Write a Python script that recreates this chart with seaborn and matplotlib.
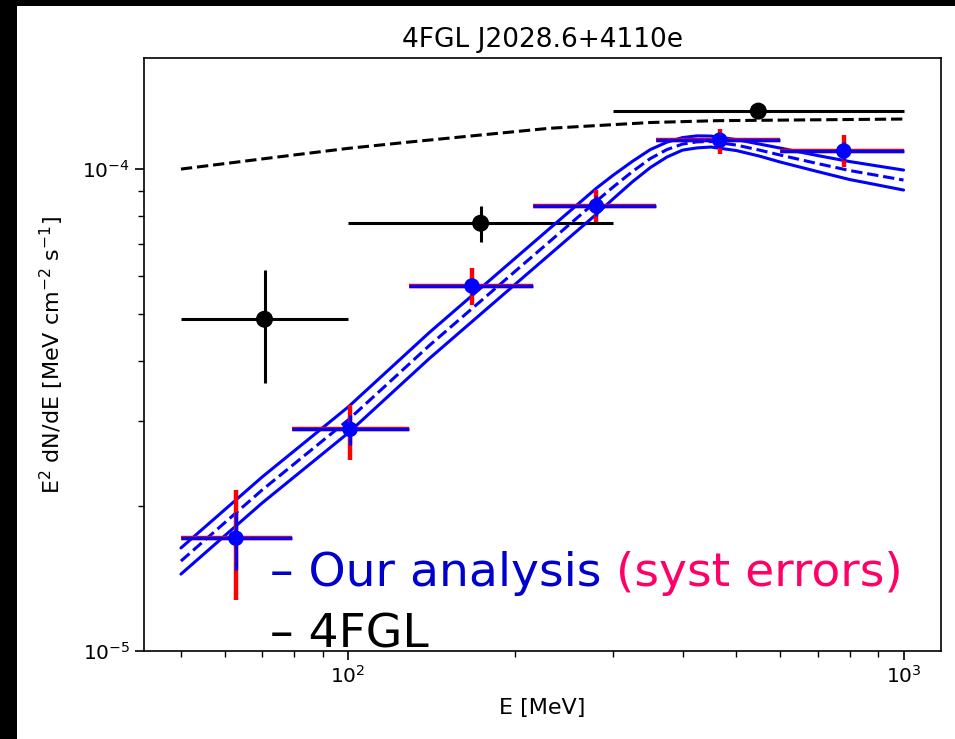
import numpy as np
import pandas as pd
import matplotlib
matplotlib.use("Agg")
import matplotlib.pyplot as plt
from matplotlib.patches import Rectangle
import seaborn as sns

# ---------------- data ----------------
# Our analysis: flux points
our_E = [62.8, 100.8, 167.1, 279.8, 466.8, 780.6]
our_E_lo = [50.0, 79.2, 128.8, 215.2, 359.0, 600.0]
our_E_hi = [79.2, 128.8, 215.2, 359.0, 600.0, 1000.0]
our_flux = [1.714e-5, 2.884e-5, 5.72e-5, 8.38e-5, 1.148e-4, 1.090e-4]
our_stat_hi = [1.945e-5, 3.09e-5, 5.94e-5, 8.79e-5, 1.18e-4, 1.139e-4]
our_stat_lo = [1.473e-5, 2.676e-5, 5.48e-5, 7.99e-5, 1.105e-4, 1.044e-4]
our_tot_hi = [2.16e-5, 3.24e-5, 6.22e-5, 9.04e-5, 1.209e-4, 1.176e-4]
our_tot_lo = [1.277e-5, 2.49e-5, 5.22e-5, 7.78e-5, 1.074e-4, 1.008e-4]

# 4FGL flux points
fgl_E = [70.7, 173.2, 547.7]
fgl_E_lo = [50.0, 100.0, 300.0]
fgl_E_hi = [100.0, 300.0, 1000.0]
fgl_flux = [4.88e-5, 7.72e-5, 1.319e-4]
fgl_hi = [6.17e-5, 8.38e-5, 1.319e-4]
fgl_lo = [3.60e-5, 7.06e-5, 1.319e-4]

# 4FGL spectral model
fgl_model_E = [50, 75, 100, 130, 230, 350, 460, 1000]
fgl_model_flux = [1.0e-4, 1.06e-4, 1.104e-4, 1.139e-4, 1.215e-4, 1.249e-4, 1.26e-4, 1.27e-4]

# Our model and its uncertainty band
model_E = [50, 70, 100, 140, 200, 280, 300, 325, 350, 375, 400, 425, 450,
           500, 550, 600, 700, 800, 900, 1000]
model_mid = [1.537e-5, 2.158e-5, 3.015e-5, 4.303e-5, 6.14e-5, 8.58e-5, 9.177e-5, 9.881e-5,
             1.0514e-4, 1.0976e-4, 1.1269e-4, 1.1388e-4, 1.1405e-4,
             1.1214e-4, 1.0950e-4, 1.0691e-4, 1.0267e-4, 0.9929e-4, 0.9694e-4, 0.9488e-4]
model_up = [1.636e-5, 2.296e-5, 3.208e-5, 4.579e-5, 6.534e-5, 9.130e-5, 9.71e-5, 1.0376e-4,
            1.0975e-4, 1.1373e-4, 1.1624e-4, 1.1720e-4, 1.1708e-4,
            1.1512e-4, 1.1269e-4, 1.1054e-4, 1.0667e-4, 1.0365e-4, 1.0144e-4, 0.9952e-4]
model_lo = [1.444e-5, 2.028e-5, 2.833e-5, 4.044e-5, 5.770e-5, 8.063e-5, 8.673e-5, 9.410e-5,
            1.0072e-4, 1.0593e-4, 1.0947e-4, 1.1065e-4, 1.1110e-4,
            1.0924e-4, 1.0640e-4, 1.0340e-4, 0.9882e-4, 0.9511e-4, 0.9264e-4, 0.9046e-4]

title = "4FGL J2028.6+4110e"
xlabel = "E [MeV]"
ylabel = r"E$^2$ dN/dE [MeV cm$^{-2}$ s$^{-1}$]"

# ---------------- style ----------------
sns.set_style("ticks")
plt.rcParams.update({
    "font.family": ["DejaVu Sans"],
    "axes.edgecolor": "black",
    "axes.linewidth": 1.2,
    "xtick.color": "black", "ytick.color": "black",
    "text.color": "black", "axes.labelcolor": "black",
    "xtick.major.size": 6.5, "ytick.major.size": 6.5,
    "xtick.minor.size": 4, "ytick.minor.size": 4,
    "xtick.major.width": 1.2, "ytick.major.width": 1.2,
    "xtick.minor.width": 1.0, "ytick.minor.width": 1.0,
    "xtick.direction": "out", "ytick.direction": "out",
})

fig = plt.figure(figsize=(9.55, 7.39), dpi=100)
W, H = 955, 739
ax = fig.add_axes([144 / W, 1 - 651 / H, (941 - 144) / W, (651 - 58) / H])
ax.set_xscale("log")
ax.set_yscale("log")

# black frame strips of the screenshot
fig.patches.append(Rectangle((0, 0), 17 / W, 1, transform=fig.transFigure,
                             facecolor="black", edgecolor="none", zorder=-1))
fig.patches.append(Rectangle((0, 1 - 6 / H), 1, 6 / H, transform=fig.transFigure,
                             facecolor="black", edgecolor="none", zorder=-1))

lw = 2.2

# 4FGL model
sns.lineplot(x=fgl_model_E, y=fgl_model_flux, ax=ax, color="black", lw=lw,
             linestyle="--", zorder=2)

# 4FGL points
fE = np.array(fgl_E)
ff = np.array(fgl_flux)
ax.errorbar(fE, ff, xerr=[fE - np.array(fgl_E_lo), np.array(fgl_E_hi) - fE],
            yerr=[ff - np.array(fgl_lo), np.array(fgl_hi) - ff],
            fmt="none", ecolor="black", elinewidth=lw, capsize=0, zorder=2)
sns.scatterplot(x=fgl_E, y=fgl_flux, ax=ax, color="black", s=150,
                edgecolor="none", zorder=2.5)

# our model band
sns.lineplot(x=model_E, y=model_up, ax=ax, color="blue", lw=lw, zorder=3)
sns.lineplot(x=model_E, y=model_lo, ax=ax, color="blue", lw=lw, zorder=3)
sns.lineplot(x=model_E, y=model_mid, ax=ax, color="blue", lw=lw, linestyle="--", zorder=3)

# our points: total (red) and statistical (blue) errors
oE = np.array(our_E)
of = np.array(our_flux)
xerr = [oE - np.array(our_E_lo), np.array(our_E_hi) - oE]
ax.errorbar(oE, of, xerr=xerr,
            yerr=[of - np.array(our_tot_lo), np.array(our_tot_hi) - of],
            fmt="none", ecolor="red", elinewidth=3.2, capsize=0, zorder=4)
ax.errorbar(oE, of, xerr=xerr,
            yerr=[of - np.array(our_stat_lo), np.array(our_stat_hi) - of],
            fmt="none", ecolor="blue", elinewidth=2.4, capsize=0, zorder=5)
sns.scatterplot(x=our_E, y=our_flux, ax=ax, color="blue", s=125,
                edgecolor="none", zorder=6)

ax.set_xlim(42.9, 1168)
ax.set_ylim(1e-5, 1.70e-4)
ax.set_title(title, fontsize=19, pad=8)
ax.set_xlabel(xlabel, fontsize=16, labelpad=8)
ax.set_ylabel(ylabel, fontsize=16, labelpad=12)
ax.tick_params(axis="both", which="major", labelsize=14.5)

# overlaid annotation text
t1 = fig.text(270 / W, 1 - 586 / H, "\u2013 Our analysis ", color="#0000CC",
              fontsize=34, va="baseline", ha="left")
fig.canvas.draw()
ax.annotate("(syst errors)", xy=(1, 0), xycoords=t1, color="#FF0066",
            fontsize=34, va="bottom", ha="left", annotation_clip=False)
fig.text(270 / W, 1 - 648 / H, "\u2013 4FGL", color="black",
         fontsize=34, va="baseline", ha="left")

fig.savefig("out.png", dpi=100)
